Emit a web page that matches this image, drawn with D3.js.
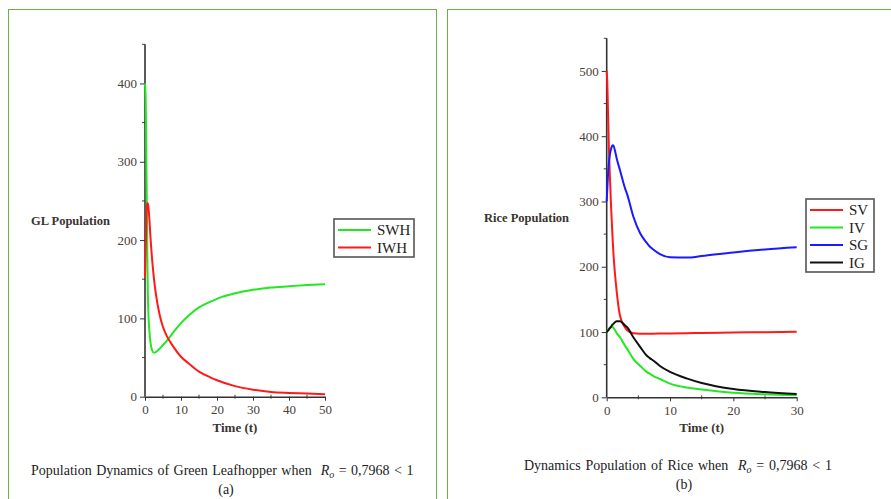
<!DOCTYPE html>
<html>
<head>
<meta charset="utf-8">
<script src="https://cdn.jsdelivr.net/npm/d3@7"></script>
<style>
  body { margin: 0; background: #fff; }
  svg { display: block; font-family: "Liberation Serif", "Times New Roman", serif; }
  svg text { font-family: "Liberation Serif", "Times New Roman", serif; }
</style>
</head>
<body>
<svg id="chart" width="891" height="499"></svg>
<script>
// ---- data ----
// (a) green leafhopper
const glTime = [0, 0.1, 0.2, 0.3, 0.4, 0.5, 0.6, 0.7, 0.8, 0.9, 1, 1.2, 1.5, 2, 2.5, 3, 4, 5, 6, 7, 8, 10, 12, 15, 18, 20, 25, 30, 35, 40, 45, 50];
const swh = [400, 392, 378, 340, 290, 250, 200, 160, 130, 112, 100, 85, 70, 59, 56, 57, 61, 66, 71, 77, 83, 94, 103, 114, 121, 125, 132, 136.5, 139.5, 141, 142.5, 143.6];
const iwh = [152, 170, 190, 210, 230, 242, 247, 247, 246, 244, 240, 228, 205, 174, 150, 132, 106, 89, 78, 70, 63, 51, 43, 32, 25, 21, 13.5, 9, 6, 4.8, 4, 3];
const glYTicks = [0, 100, 200, 300, 400];
const glXTicks = [0, 10, 20, 30, 40, 50];

// (b) rice
const riceTime = [0, 0.1, 0.2, 0.35, 0.5, 0.7, 0.95, 1.1, 1.3, 1.6, 2.1, 2.9, 3.2, 4.2, 5.3, 6.3, 6.8, 7.4, 8.4, 10, 12.6, 15, 20, 25, 30];
const sv = [500, 480, 440, 380, 340, 290, 240, 215, 190, 160, 125, 107, 103, 98, 97.5, 97.5, 97.5, 97.5, 97.6, 97.8, 98.2, 98.6, 99.2, 99.8, 100.3];
const iv = [100, 101.5, 103, 105, 106.5, 107.3, 107.6, 106, 103, 98, 92, 79, 74.6, 59, 48, 39, 36, 32.5, 28, 21, 15, 12, 7, 4.5, 3];
const sg = [300, 320, 340, 360, 372, 381, 386, 385, 378, 365, 348, 320, 312, 277, 251, 237, 231, 226, 219.5, 214.5, 214, 216.4, 222, 226.5, 229.7];
const ig = [100, 101, 102, 104, 106, 108.5, 111.5, 113, 115, 116.5, 116.5, 110, 107.6, 92, 77, 64, 60, 56, 48, 39, 29, 22, 12.7, 8, 5];
const riceYTicks = [0, 100, 200, 300, 400, 500];
const riceXTicks = [0, 10, 20, 30];

const svg = d3.select("#chart");
const frameColor = "#70ad47";

// panel frames
svg.append("rect").attr("x", 8.5).attr("y", 9.5).attr("width", 428).attr("height", 500)
  .attr("fill", "none").attr("stroke", frameColor).attr("stroke-width", 1);
svg.append("rect").attr("x", 447.5).attr("y", 9.5).attr("width", 460).attr("height", 500)
  .attr("fill", "none").attr("stroke", frameColor).attr("stroke-width", 1);

function drawPanel(p) {
  const x = d3.scaleLinear().domain(p.xDomain).range(p.xRange);
  const y = d3.scaleLinear().domain(p.yDomain).range(p.yRange);
  const g = svg.append("g");

  // minor ticks
  const yMinor = d3.range(p.yDomain[0], p.yDomain[1] + 1, 50).filter(v => !p.yTicks.includes(v));
  const xMinor = d3.range(p.xDomain[0], p.xDomain[1] + 0.1, 5).filter(v => !p.xTicks.includes(v));

  g.selectAll(".ymin").data(yMinor).join("line")
    .attr("x1", x(0) - 3).attr("x2", x(0)).attr("y1", d => y(d)).attr("y2", d => y(d))
    .attr("stroke", "#444").attr("stroke-width", 1);
  g.selectAll(".xmin").data(xMinor).join("line")
    .attr("x1", d => x(d)).attr("x2", d => x(d)).attr("y1", y(0) - 2).attr("y2", y(0) + 2)
    .attr("stroke", "#444").attr("stroke-width", 1);

  // axes
  const yAxis = d3.axisLeft(y).tickValues(p.yTicks).tickSize(5).tickSizeOuter(0).tickPadding(3);
  const xAxis = d3.axisBottom(x).tickValues(p.xTicks).tickSize(4).tickSizeOuter(0).tickPadding(4);
  const ya = g.append("g").attr("transform", `translate(${x(0)},0)`).call(yAxis);
  const xa = g.append("g").attr("transform", `translate(0,${y(0)})`).call(xAxis);
  [ya, xa].forEach(a => {
    a.attr("font-family", null);
    a.select(".domain").attr("stroke", "#333").attr("stroke-width", 1.6);
    a.selectAll(".tick line").attr("stroke", "#333").attr("stroke-width", 1);
    a.selectAll(".tick text").attr("fill", "#4a4036").attr("font-size", 13);
  });
  ya.select(".domain").attr("d", `M0,${y(p.yDomain[1])}V${y(0)}`);

  // curves
  const line = d3.line().x(d => x(d[0])).y(d => y(d[1])).curve(d3.curveMonotoneX);
  p.series.forEach(s => {
    g.append("path")
      .datum(p.time.map((t, i) => [t, s.values[i]]))
      .attr("fill", "none").attr("stroke", s.color).attr("stroke-width", 2)
      .attr("d", line);
  });

  // axis titles
  g.append("text").attr("x", p.yLabelX).attr("y", p.yLabelY).text(p.yLabel)
    .attr("font-size", 12.5).attr("font-weight", "bold").attr("fill", "#3a3430");
  g.append("text").attr("x", (x.range()[0] + x.range()[1]) / 2).attr("y", y(0) + 35)
    .attr("text-anchor", "middle").text("Time (t)")
    .attr("font-size", 13).attr("font-weight", "bold").attr("fill", "#3a3430");

  // legend
  const lg = g.append("g").attr("transform", `translate(${p.legendX},${p.legendY})`);
  const rowH = 17.5;
  lg.append("rect").attr("x", 0).attr("y", 0).attr("width", p.legendW)
    .attr("height", p.series.length * rowH + 3)
    .attr("fill", "#fff").attr("stroke", "#555").attr("stroke-width", 1.6);
  p.series.forEach((s, i) => {
    const cy = 11 + i * rowH;
    lg.append("line").attr("x1", 4).attr("x2", 37).attr("y1", cy).attr("y2", cy)
      .attr("stroke", s.color).attr("stroke-width", 2);
    lg.append("text").attr("x", 43).attr("y", cy + 5).text(s.name)
      .attr("font-size", 15).attr("fill", "#222");
  });

  // caption
  const cap = svg.append("text").attr("x", p.capX).attr("y", p.capY)
    .attr("font-size", 14).attr("fill", "#222").attr("xml:space", "preserve")
    .attr("word-spacing", p.wordSpacing);
  cap.append("tspan").text(p.caption + "  ");
  cap.append("tspan").attr("font-style", "italic").text("R");
  cap.append("tspan").attr("font-style", "italic").attr("font-size", 10).attr("dy", 3).text("o");
  cap.append("tspan").attr("dy", -3).text(" = 0,7968 < 1");
  svg.append("text").attr("x", p.subX).attr("y", p.capY + 19).attr("text-anchor", "middle")
    .attr("font-size", 14).attr("fill", "#222").text(p.sub);
}

drawPanel({
  time: glTime,
  series: [{ name: "SWH", values: swh, color: "#22e822" }, { name: "IWH", values: iwh, color: "#ff1a1a" }],
  xDomain: [0, 50], xRange: [145, 325], xTicks: glXTicks,
  yDomain: [0, 450], yRange: [396.7, 44.3], yTicks: glYTicks,
  yLabel: "GL Population", yLabelX: 31, yLabelY: 225,
  legendX: 334, legendY: 219, legendW: 80,
  caption: "Population Dynamics of Green Leafhopper when", capX: 31, capY: 475, wordSpacing: 1,
  sub: "(a)", subX: 226
});

drawPanel({
  time: riceTime,
  series: [
    { name: "SV", values: sv, color: "#ff1a1a" },
    { name: "IV", values: iv, color: "#22e822" },
    { name: "SG", values: sg, color: "#1a1aff" },
    { name: "IG", values: ig, color: "#111" }
  ],
  xDomain: [0, 30], xRange: [606.7, 796.7], xTicks: riceXTicks,
  yDomain: [0, 550], yRange: [397.3, 38.3], yTicks: riceYTicks,
  yLabel: "Rice Population", yLabelX: 484, yLabelY: 222,
  legendX: 806, legendY: 199, legendW: 68,
  caption: "Dynamics Population of Rice when", capX: 524, capY: 470, wordSpacing: 1.3,
  sub: "(b)", subX: 684
});
</script>
</body>
</html>
